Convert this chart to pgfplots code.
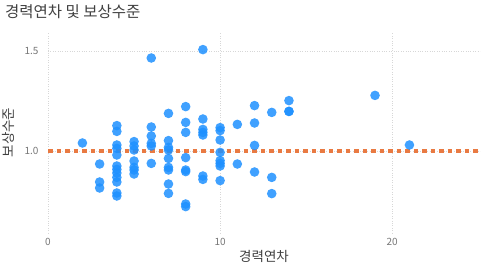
\documentclass[border=0pt]{standalone}
\usepackage{pgfplots}
\pgfplotsset{compat=1.18}
\usepackage{fontspec}
\setmainfont{Noto Sans CJK KR}
\definecolor{ptblue}{RGB}{30,144,255}
\definecolor{refor}{RGB}{233,122,66}
\definecolor{titlegray}{RGB}{64,64,64}
\definecolor{tickgray}{RGB}{118,118,118}
\definecolor{gridgray}{RGB}{215,215,215}
\pgfdeclareplotmark{fdot}{\pgfpathcircle{\pgfpoint{0pt}{0pt}}{\pgfplotmarksize}\pgfusepathqfill}
\begin{document}
\begin{tikzpicture}[x=1pt,y=1pt]
\path[use as bounding box] (0,0) rectangle (486,272);
\node[anchor=base west,inner sep=0,text=titlegray,font=\fontsize{15.5}{18}\selectfont] at (5,254) {경력연차 및 보상수준};
\begin{axis}[
  at={(48pt,39pt)}, anchor=south west,
  scale only axis, width=432pt, height=201pt,
  xmin=0, xmax=25.1, ymin=0.59, ymax=1.595,
  xtick={0,10,20}, ytick={1.0,1.5},
  yticklabel style={/pgf/number format/fixed,/pgf/number format/fixed zerofill,/pgf/number format/precision=1,xshift=-6pt},
  /pgf/number format/assume math mode=true,
  axis line style={draw=none},
  major tick style={draw=none},
  ymajorgrids, xmajorgrids,
  grid style={gridgray, dotted, line width=0.8pt},
  tick label style={text=tickgray,font=\fontsize{10}{12}\selectfont},
  xticklabel style={yshift=-2pt},
  xlabel={경력연차}, ylabel={보상수준},
  label style={text=titlegray,font=\fontsize{13.5}{16}\selectfont},
  xlabel style={at={(axis description cs:0.5,0)},yshift=-14pt},
  ylabel style={at={(axis description cs:0,0.5)},yshift=30pt},
  clip=false,
]
\addplot[draw=refor, line width=3.2pt, dash pattern=on 4.5pt off 4pt, mark=none] coordinates {(0,1.0) (25.1,1.0)};
\addplot[only marks, mark=fdot, mark size=4.8pt, ptblue, mark options={fill=ptblue, fill opacity=0.85}] coordinates {
(2,1.04)
(3,0.935) (3,0.845) (3,0.815)
(4,1.127) (4,1.098) (4,1.03) (4,1.013) (4,0.98) (4,0.925) (4,0.908) (4,0.89) (4,0.868) (4,0.845) (4,0.79) (4,0.775)
(5,1.047) (5,1.025) (5,1.005) (5,0.95) (5,0.918) (5,0.905) (5,0.885)
(6,1.465) (6,1.12) (6,1.075) (6,1.038) (6,1.025) (6,0.938)
(7,1.188) (7,1.052) (7,1.018) (7,1.005) (7,0.963) (7,0.918) (7,0.905) (7,0.835) (7,0.788)
(8,1.222) (8,1.143) (8,1.093) (8,0.967) (8,0.905) (8,0.897) (8,0.735) (8,0.722)
(9,1.507) (9,1.16) (9,1.108) (9,1.093) (9,1.08) (9,0.875) (9,0.858)
(10,1.117) (10,1.102) (10,1.055) (10,0.993) (10,0.952) (10,0.938) (10,0.925) (10,0.852)
(11,1.133) (11,0.935)
(12,1.227) (12,1.14) (12,1.028) (12,0.895)
(13,1.193) (13,0.868) (13,0.787)
(14,1.252) (14,1.198) (14,1.198)
(19,1.278)
(21,1.03)
};
\end{axis}
\end{tikzpicture}
\end{document}
